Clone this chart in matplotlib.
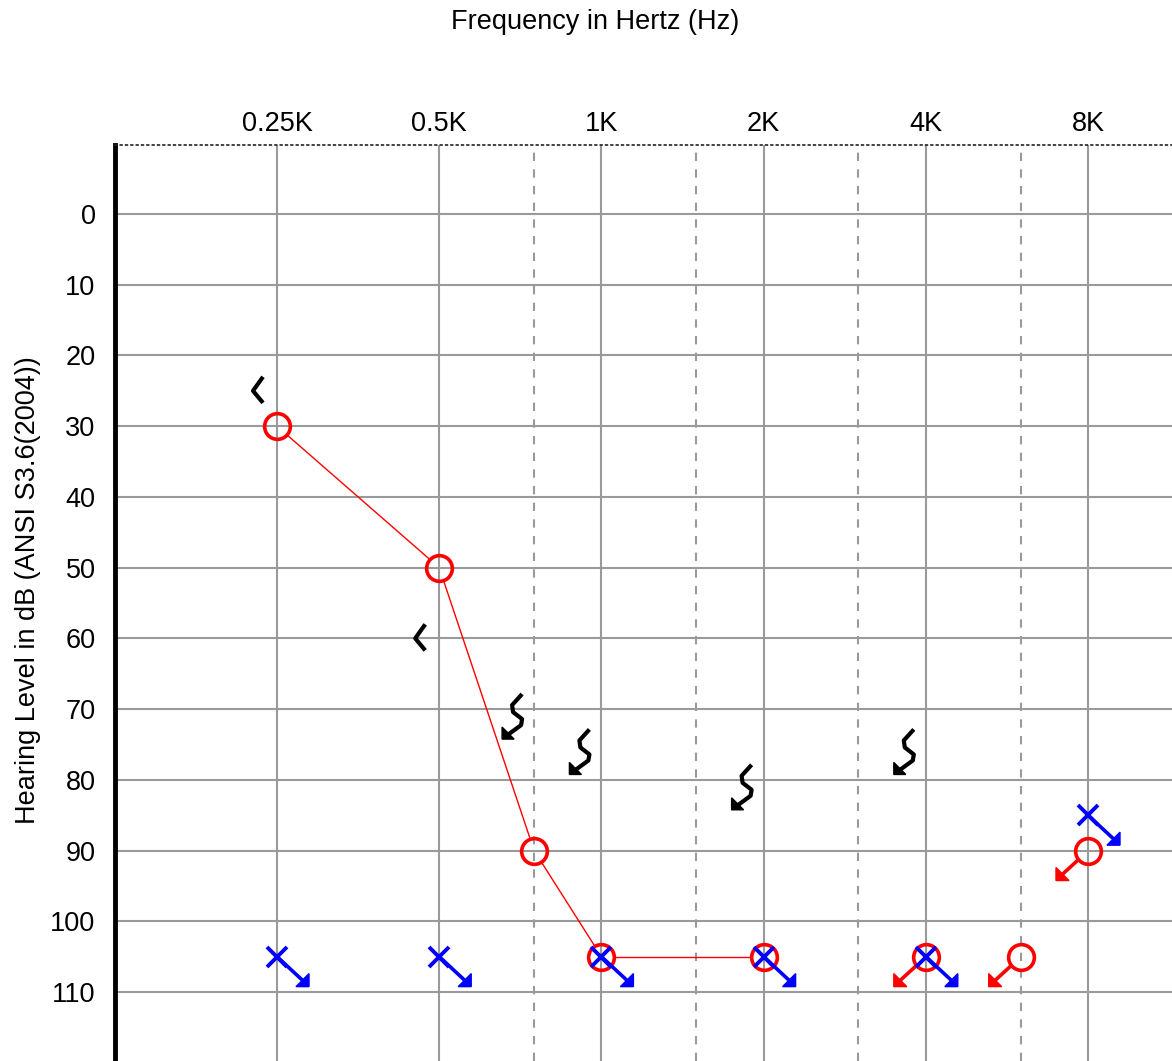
import numpy as np
import matplotlib
matplotlib.use("Agg")
import matplotlib.pyplot as plt
import matplotlib.transforms as mtransforms

# ---------------- data ----------------
octave_freqs = [250, 500, 1000, 2000, 4000, 8000]
octave_labels = ["0.25K", "0.5K", "1K", "2K", "4K", "8K"]
mid_freqs = [750, 1500, 3000, 6000]
db_ticks = list(range(0, 111, 10))

# right ear air conduction (red O), connected responses
right_ac_freq = [250, 500, 750, 1000, 2000]
right_ac_db = [30, 50, 90, 105, 105]
# right ear air conduction, no response
right_nr_freq = [4000, 6000, 8000]
right_nr_db = [105, 105, 90]
# left ear air conduction (blue X), no response
left_nr_freq = [250, 500, 1000, 2000, 4000, 8000]
left_nr_db = [105, 105, 105, 105, 105, 85]
# bone conduction unmasked (<)
bc_freq = [250, 500]
bc_db = [25, 60]
# bone conduction, no response
bc_nr_freq = [750, 1000, 2000, 4000]
bc_nr_db = [70, 75, 80, 75]

RED = "#ff0000"
BLUE = "#0000ff"
GRID = "#9a9a9a"

plt.rcParams['font.family'] = ['Liberation Sans', 'DejaVu Sans']

fig = plt.figure(figsize=(11.72, 10.61), dpi=100)
W, H = 1172, 1061
ax = fig.add_axes([115 / W, 0, (W - 115) / W, (H - 145) / H])
ax.set_xscale('log')
ax.set_xlim(125.1, 8000 * 2 ** (84 / 162.2))
ax.set_ylim(119.76, -9.76)

ax.minorticks_off()
ax.xaxis.tick_top()
ax.set_xticks(octave_freqs)
ax.set_xticklabels(octave_labels)
ax.set_yticks(db_ticks)
ax.set_yticklabels([str(v) for v in db_ticks])
ax.tick_params(axis='x', length=0, pad=6, labelsize=19.5)
ax.tick_params(axis='y', length=0, pad=14, labelsize=19.5)

for s in ['right', 'bottom']:
    ax.spines[s].set_visible(False)
ax.spines['left'].set_linewidth(3.5)
ax.spines['left'].set_color('black')
ax.spines['top'].set_linewidth(1.2)
ax.spines['top'].set_linestyle((0, (1, 2.2)))
ax.spines['top'].set_color('#222222')

for f in octave_freqs:
    ax.axvline(f, color=GRID, lw=1.5, zorder=1)
for f in mid_freqs:
    ax.axvline(f, color=GRID, lw=1.5, ls=(0, (4, 4)), zorder=1)
for d in db_ticks:
    ax.axhline(d, color=GRID, lw=1.5, zorder=1)

fig.text(595 / W, 1 - 22 / H, "Frequency in Hertz (Hz)", ha='center', va='center', fontsize=19.5)
fig.text(28 / W, 1 - 590 / H, "Hearing Level in dB (ANSI S3.6(2004))", ha='center', va='center',
         rotation=90, fontsize=19.5)

fig.canvas.draw()
ID = mtransforms.IdentityTransform()


def disp(f, d):
    return ax.transData.transform((f, d))


def poly(f, d, offs, color, lw, fill=False, z=5):
    cx, cy = disp(f, d)
    xs = [cx + o[0] for o in offs]
    ys = [cy - o[1] for o in offs]
    if fill:
        ax.fill(xs, ys, color=color, transform=ID, zorder=z, lw=1, ec=color, clip_on=False)
    else:
        ax.plot(xs, ys, color=color, lw=lw, transform=ID, zorder=z, solid_capstyle='butt',
                solid_joinstyle='round', clip_on=False)


R = 13.5  # circle radius in px

# connecting red line, stopping at circle edges
pts = [disp(f, d) for f, d in zip(right_ac_freq, right_ac_db)]
for (x0, y0), (x1, y1) in zip(pts[:-1], pts[1:]):
    v = np.array([x1 - x0, y1 - y0])
    L = np.hypot(*v)
    u = v / L
    a = np.array([x0, y0]) + u * R
    b = np.array([x1, y1]) - u * R
    ax.plot([a[0], b[0]], [a[1], b[1]], color=RED, lw=1.0, transform=ID, zorder=3)

# red circles
ax.plot(right_ac_freq, right_ac_db, ls='none', marker='o', ms=18.5, mfc='none', mec=RED, mew=2.6, zorder=4)
ax.plot(right_nr_freq, right_nr_db, ls='none', marker='o', ms=18.5, mfc='none', mec=RED, mew=2.6, zorder=4)
# red no-response arrows (down-left)
for f, d in zip(right_nr_freq, right_nr_db):
    poly(f, d, [(-10, 9.5), (-28, 26)], RED, 2.6, z=4)
    poly(f, d, [(-32, 30), (-32, 17), (-19, 30)], RED, 0, fill=True, z=4)

# blue X with no-response arrows (down-right)
ax.plot(left_nr_freq, left_nr_db, ls='none', marker='x', ms=14.5, mec=BLUE, mew=2.8, zorder=6)
for f, d in zip(left_nr_freq, left_nr_db):
    poly(f, d, [(0, 0), (28, 26)], BLUE, 2.6, z=6)
    poly(f, d, [(32, 30), (32, 17), (19, 30)], BLUE, 0, fill=True, z=6)

# bone conduction <
for f, d in zip(bc_freq, bc_db):
    poly(f, d, [(-14, -14), (-24, 0), (-14, 12)], 'black', 3.0, z=5)

# bone conduction no response squiggle with arrow
for f, d in zip(bc_nr_freq, bc_nr_db):
    poly(f, d, [(-12, -15), (-22, -4), (-21, 3), (-12, 10), (-13, 16), (-28, 27)], 'black', 3.0, z=5)
    poly(f, d, [(-32, 30), (-32, 18), (-20, 30)], 'black', 0, fill=True, z=5)

fig.savefig("out.png", dpi=100)
